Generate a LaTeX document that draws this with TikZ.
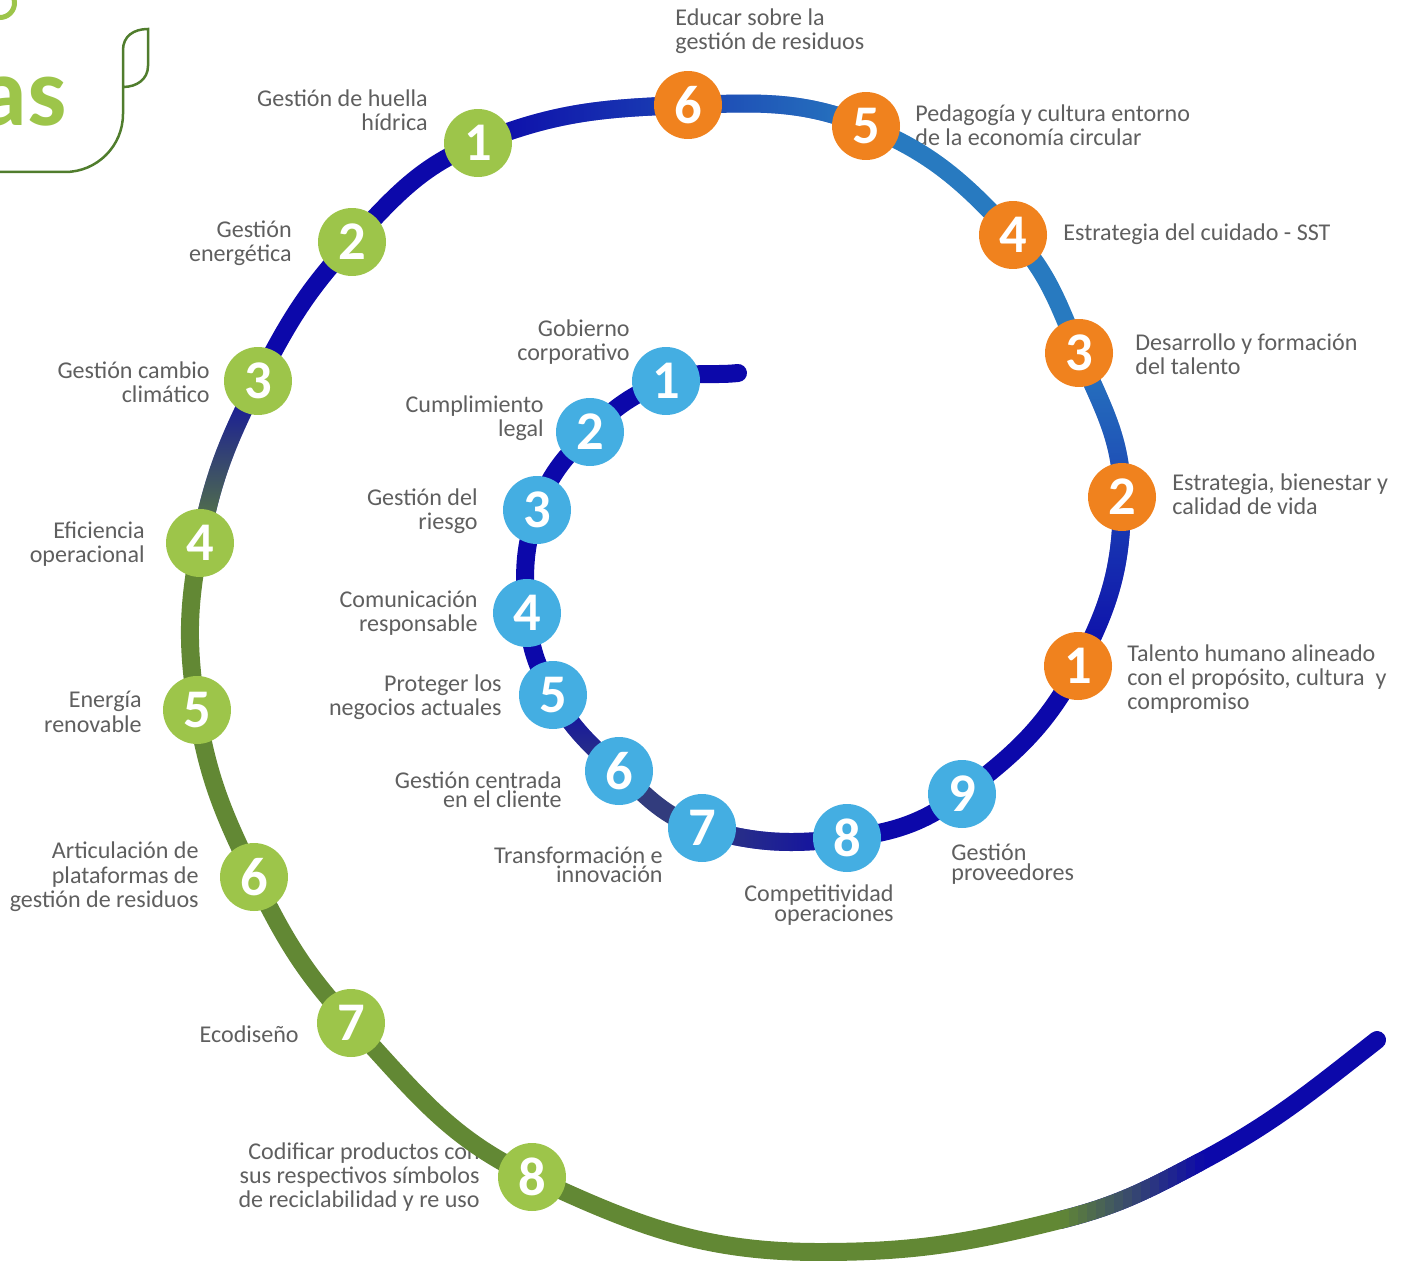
\documentclass[tikz,border=0pt]{standalone}
\usepackage{fontspec}
\setmainfont{Carlito}
\usetikzlibrary{fadings}

% colours of the spiral, the dots and the texts
\definecolor{deep}{RGB}{12,8,170}
\definecolor{midblue}{RGB}{28,68,180}
\definecolor{skyblue}{RGB}{40,122,192}
\definecolor{slate}{RGB}{50,60,125}
\definecolor{pathgreen}{RGB}{98,136,52}
\definecolor{dotgreen}{RGB}{157,197,74}
\definecolor{dotorange}{RGB}{240,130,30}
\definecolor{dotblue}{RGB}{68,174,226}
\definecolor{labelgray}{RGB}{95,95,95}
\definecolor{boxgreen}{RGB}{80,125,45}

\newcommand{\lblfont}{\fontsize{13.7}{13.9}\selectfont}
\newcommand{\lbltight}{\fontsize{13.7}{11}\selectfont\lineskiplimit=-20pt}
\newcommand{\numfont}{\fontsize{31}{31}\selectfont\bfseries}

\tikzset{
  spiral/.style={line width=0.36cm, line cap=round},
  dot/.style={circle, minimum size=1.36cm, inner sep=0pt, text=white, font=\numfont},
  greendot/.style={dot, fill=dotgreen},
  orangedot/.style={dot, fill=dotorange},
  bluedot/.style={dot, fill=dotblue},
  lbl/.style={text=labelgray, inner sep=0pt, font=\lblfont},
  lblr/.style={lbl, align=right, anchor=east},
  lbll/.style={lbl, align=left, anchor=west},
  tight/.style={font=\lbltight}
}

\begin{document}
\begin{tikzpicture}[x=0.02cm, y=0.02cm]
  % page size, 1408 x 1260 px
  \useasboundingbox (0,0) rectangle (1408,-1260);

  % points of the spiral, from the inner end outwards
  \coordinate (e0) at (738,-373);
  \coordinate (b1) at (666,-381);
  \coordinate (b2) at (590,-432);
  \coordinate (b3) at (537,-510);
  \coordinate (b4) at (527,-613);
  \coordinate (b5) at (553,-695);
  \coordinate (b6) at (619,-771);
  \coordinate (b7) at (702,-828);
  \coordinate (b8) at (847,-838);
  \coordinate (b9) at (962,-794);
  \coordinate (o1) at (1078,-666);
  \coordinate (o2) at (1122,-497);
  \coordinate (o3) at (1079,-353);
  \coordinate (o4) at (1013,-235);
  \coordinate (o5) at (866,-126);
  \coordinate (o6) at (688,-105);
  \coordinate (g1) at (478,-143);
  \coordinate (g2) at (352,-242);
  \coordinate (g3) at (258,-381);
  \coordinate (g4) at (200,-543);
  \coordinate (g5) at (197,-710);
  \coordinate (g6) at (254,-877);
  \coordinate (g7) at (351,-1023);
  \coordinate (g8) at (532,-1177);
  \coordinate (bt) at (820,-1252);
  \coordinate (m1) at (1060,-1220);
  \coordinate (m2) at (1200,-1162);
  \coordinate (e1) at (1377,-1040);

  % labels of the inner (blue) dots
  \node[lblr] (tb1) at (630,-342) {Gobierno\\corporativo};
  \node[lblr] (tb2) at (544,-418) {Cumplimiento\\legal};
  \node[lblr] (tb3) at (478,-511) {Gestión del\\riesgo};
  \node[lblr] (tb4) at (478,-613) {Comunicación\\responsable};
  \node[lblr] (tb5) at (502,-697) {Proteger los\\negocios actuales};
  \node[lblr, tight] (tb6) at (562,-790) {Gestión centrada\\en el cliente};
  \node[lblr, tight] (tb7) at (663,-865) {Transformación e\\innovación};
  \node[lblr, tight] (tb8) at (894,-905) {Competitividad\\operaciones};
  \node[lbll, tight] (tb9) at (951,-864) {Gestión\\proveedores};

  % labels of the orange dots
  \node[lbll] (to1) at (1127,-679) {Talento humano alineado\\con el propósito, cultura~ y\\compromiso};
  \node[lbll] (to2) at (1172,-494) {Estrategia, bienestar y\\calidad de vida};
  \node[lbll] (to3) at (1135,-354) {Desarrollo y formación\\del talento};
  \node[lbll] (to4) at (1063,-234) {Estrategia del cuidado - SST};
  \node[lbll] (to5) at (915,-125) {Pedagogía y cultura entorno\\de la economía circular};
  \node[lbll] (to6) at (675,-31) {Educar sobre la\\gestión de residuos};

  % labels of the green dots
  \node[lblr] (tg1) at (428,-110) {Gestión de huella\\hídrica};
  \node[lblr] (tg2) at (292,-243) {Gestión\\energética};
  \node[lblr] (tg3) at (210,-382) {Gestión cambio\\climático};
  \node[lblr] (tg4) at (145,-544) {Eficiencia\\operacional};
  \node[lblr] (tg5) at (142,-712) {Energía\\renovable};
  \node[lblr] (tg6) at (199,-877) {Articulación de\\plataformas de\\gestión de residuos};
  \node[lblr] (tg7) at (299,-1034) {Ecodiseño};
  \node[lblr] (tg8) at (480,-1177) {Codificar productos con\\sus respectivos símbolos\\de reciclabilidad y re uso};

  % inner turn
  \draw[spiral, deep] (e0) to[out=186,in=22] (b1) to[out=202,in=45] (b2)
    to[out=225,in=71] (b3) to[out=251,in=95] (b4) to[out=275,in=120] (b5);
  \draw[spiral, deep] (b5) to[out=300,in=138] (b6);
  \draw[spiral, slate, path fading=north] (b5) to[out=300,in=138] (b6);
  \draw[spiral, slate] (b6) to[out=318,in=164] (b7);
  \draw[spiral, deep] (b7) to[out=344,in=187] (b8);
  \draw[spiral, slate, path fading=east] (b7) to[out=344,in=187] (b8);

  % right side, up to the top
  \draw[spiral, deep] (b8) to[out=7,in=217] (b9) to[out=37,in=242] (o1)
    to[out=62,in=270] (o2);
  \draw[spiral, midblue, path fading=south] (o1) to[out=62,in=270] (o2);
  \draw[spiral, midblue] (o2) to[out=90,in=293] (o3);
  \draw[spiral, skyblue, path fading=south] (o2) to[out=90,in=293] (o3);
  \draw[spiral, skyblue] (o3) to[out=113,in=313] (o4) to[out=133,in=338] (o5);
  \draw[spiral, midblue] (o5) to[out=158,in=2] (o6);
  \draw[spiral, skyblue, path fading=west] (o5) to[out=158,in=2] (o6);

  % left side, blue into green
  \draw[spiral, deep] (o6) to[out=182,in=22] (g1) to[out=202,in=47] (g2)
    to[out=227,in=63] (g3) to[out=243,in=79] (g4);
  \draw[spiral, midblue, path fading=west] (o6) to[out=182,in=22] (g1);
  \draw[spiral, pathgreen, path fading=north] (g3) to[out=243,in=79] (g4);

  % bottom, green back into blue
  \draw[spiral, deep] (m1) to[out=14,in=208] (m2) to[out=28,in=218] (e1);
  \draw[spiral, pathgreen] (g4) to[out=259,in=99] (g5) to[out=279,in=116] (g6)
    to[out=296,in=133] (g7) to[out=313,in=155] (g8) to[out=335,in=180] (bt)
    to[out=0,in=194] (m1);
  % colour blend between m1 and m2, drawn in thin strips
  \foreach \i in {0,...,15} {
    \pgfmathsetmacro{\p}{100-(\i+0.5)*100/16}
    \begin{scope}
      \clip (1060+\i*9,-1270) rectangle (1069.5+\i*9,-1120);
      \draw[spiral, pathgreen!\p!deep] (m1) to[out=14,in=208] (m2);
    \end{scope}
  }

  % dots
  \node[bluedot] (nb1) at (b1) {1};
  \node[bluedot] (nb2) at (b2) {2};
  \node[bluedot] (nb3) at (b3) {3};
  \node[bluedot] (nb4) at (b4) {4};
  \node[bluedot] (nb5) at (b5) {5};
  \node[bluedot] (nb6) at (b6) {6};
  \node[bluedot] (nb7) at (b7) {7};
  \node[bluedot] (nb8) at (b8) {8};
  \node[bluedot] (nb9) at (b9) {9};
  \node[orangedot] (no1) at (o1) {1};
  \node[orangedot] (no2) at (o2) {2};
  \node[orangedot] (no3) at (o3) {3};
  \node[orangedot] (no4) at (o4) {4};
  \node[orangedot] (no5) at (o5) {5};
  \node[orangedot] (no6) at (o6) {6};
  \node[greendot] (ng1) at (g1) {1};
  \node[greendot] (ng2) at (g2) {2};
  \node[greendot] (ng3) at (g3) {3};
  \node[greendot] (ng4) at (g4) {4};
  \node[greendot] (ng5) at (g5) {5};
  \node[greendot] (ng6) at (g6) {6};
  \node[greendot] (ng7) at (g7) {7};
  \node[greendot] (ng8) at (g8) {8};

  % cut off title in the top left corner
  \draw[dotgreen, line width=0.1cm] (0,-3) circle[radius=14.5];
  \node[anchor=base east, inner sep=0pt, text=dotgreen,
        font=\fontsize{56}{56}\selectfont\bfseries] (title) at (67,-126) {as};
  \draw[boxgreen, line width=0.05cm] (0,-172) -- (65,-172)
    arc[start angle=-90, end angle=0, radius=58] -- (123,-50)
    .. controls (123,-36) and (134,-29) .. (148,-29) -- (148,-66)
    .. controls (148,-79) and (137,-87) .. (123,-87);
\end{tikzpicture}
\end{document}
